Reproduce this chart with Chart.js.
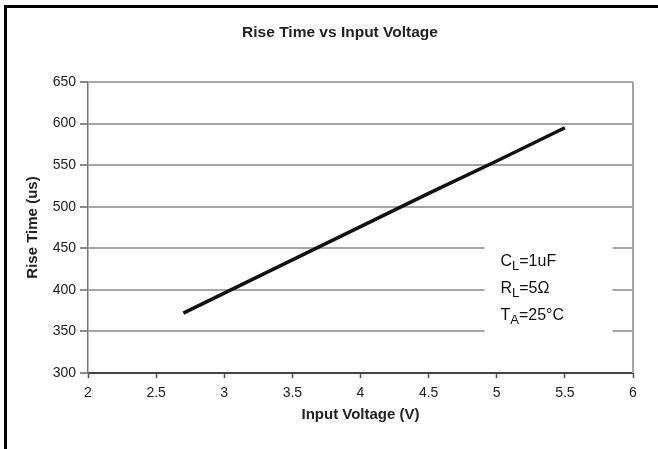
<!DOCTYPE html>
<html>
<head>
<meta charset="utf-8">
<script src="https://cdn.jsdelivr.net/npm/chart.js@4"></script>
<style>
  body { margin: 0; background: #fff; }
  canvas { display: block; }
</style>
</head>
<body>
<canvas id="riseChart" width="658" height="449"></canvas>
<script>
// values
const inputVoltage = [2.7, 3.0, 3.5, 4.0, 4.5, 5.0, 5.5];
const riseTime = [372, 396, 436, 476, 516, 555, 595];

const xTickValues = [2, 2.5, 3, 3.5, 4, 4.5, 5, 5.5, 6];
const yTickValues = [300, 350, 400, 450, 500, 550, 600, 650];

// test conditions box: letter, subscript, rest
const noteLetters = ['C', 'R', 'T'];
const noteSubs = ['L', 'L', 'A'];
const noteRest = ['=1uF', '=5\u03A9', '=25\u00B0C'];

const FONT = '"Liberation Sans", Arial, sans-serif';

const framePlugin = {
    id: 'frame',
    beforeDraw(chart) {
        const ctx = chart.ctx;
        ctx.save();
        ctx.fillStyle = '#fff';
        ctx.fillRect(0, 0, chart.width, chart.height);
        // black outer frame (left and top only are visible)
        ctx.strokeStyle = '#000';
        ctx.lineWidth = 3;
        ctx.beginPath();
        ctx.moveTo(5.5, chart.height);
        ctx.lineTo(5.5, 6.5);
        ctx.lineTo(chart.width, 6.5);
        ctx.stroke();
        ctx.restore();
    },
    afterDraw(chart) {
        const ctx = chart.ctx;
        const a = chart.chartArea;
        ctx.save();
        ctx.strokeStyle = '#a6a6a6';
        ctx.lineWidth = 2;
        ctx.beginPath();
        ctx.moveTo(a.right, a.top);
        ctx.lineTo(a.right, a.bottom);
        ctx.stroke();
        ctx.restore();
    }
};

const notesPlugin = {
    id: 'notes',
    afterDatasetsDraw(chart) {
        const ctx = chart.ctx;
        const xs = chart.scales.x, ys = chart.scales.y;
        const left = xs.getPixelForValue(4.91);
        const right = xs.getPixelForValue(5.85);
        const top = ys.getPixelForValue(462);
        const bottom = ys.getPixelForValue(338);
        ctx.save();
        ctx.fillStyle = '#fff';
        ctx.fillRect(left, top, right - left, bottom - top);
        ctx.fillStyle = '#111';
        ctx.textBaseline = 'alphabetic';
        ctx.textAlign = 'left';
        for (let i = 0; i < noteLetters.length; i++) {
            let x = left + 16;
            const y = top + 28 + i * 27;
            ctx.font = '16px ' + FONT;
            ctx.fillText(noteLetters[i], x, y);
            x += ctx.measureText(noteLetters[i]).width;
            ctx.font = '13px ' + FONT;
            ctx.fillText(noteSubs[i], x, y + 4);
            x += ctx.measureText(noteSubs[i]).width;
            ctx.font = '16px ' + FONT;
            ctx.fillText(noteRest[i], x, y);
        }
        ctx.restore();
    }
};

const ctx = document.getElementById('riseChart').getContext('2d');
const chart = new Chart(ctx, {
    type: 'line',
    data: {
        datasets: [{
            label: 'Rise Time',
            data: inputVoltage.map((v, i) => ({ x: v, y: riseTime[i] })),
            borderColor: '#111',
            borderWidth: 3.5,
            pointRadius: 0,
            fill: false,
            tension: 0
        }]
    },
    options: {
        responsive: false,
        animation: false,
        layout: {
            padding: { left: 47, right: 25, top: 0, bottom: 0 }
        },
        plugins: {
            legend: { display: false },
            tooltip: { enabled: false },
            title: {
                display: true,
                text: 'Rise Time vs Input Voltage',
                color: '#222',
                font: { family: FONT, size: 15.5, weight: 'bold' },
                padding: { top: 23.7, bottom: 39.7 }
            }
        },
        scales: {
            x: {
                type: 'linear',
                min: 2,
                max: 6,
                afterBuildTicks: (scale) => {
                    scale.ticks = xTickValues.map(v => ({ value: v }));
                },
                afterFit: (scale) => { scale.height = 76; },
                ticks: {
                    color: '#222',
                    font: { family: FONT, size: 14 },
                    padding: 7,
                    maxRotation: 0,
                    autoSkip: false,
                    callback: (v) => String(v)
                },
                grid: {
                    drawOnChartArea: false,
                    drawTicks: true,
                    tickLength: 5,
                    tickColor: '#555',
                    tickWidth: 1.5
                },
                border: { color: '#444', width: 2 },
                title: {
                    display: true,
                    text: 'Input Voltage (V)',
                    color: '#222',
                    font: { family: FONT, size: 15, weight: 'bold' },
                    padding: { top: 0, bottom: 25 }
                }
            },
            y: {
                min: 300,
                max: 650,
                afterBuildTicks: (scale) => {
                    scale.ticks = yTickValues.map(v => ({ value: v }));
                },
                afterFit: (scale) => { scale.width = 41; },
                ticks: {
                    color: '#222',
                    font: { family: FONT, size: 14 },
                    padding: 4
                },
                grid: {
                    color: '#a6a6a6',
                    lineWidth: 2,
                    tickLength: 8,
                    tickColor: '#666',
                    tickWidth: 1.5
                },
                border: { color: '#777', width: 1.5 },
                title: {
                    display: true,
                    text: 'Rise Time (us)',
                    color: '#222',
                    font: { family: FONT, size: 15, weight: 'bold' },
                    padding: { top: -23, bottom: 0 }
                }
            }
        }
    },
    plugins: [framePlugin, notesPlugin]
});
</script>
</body>
</html>
